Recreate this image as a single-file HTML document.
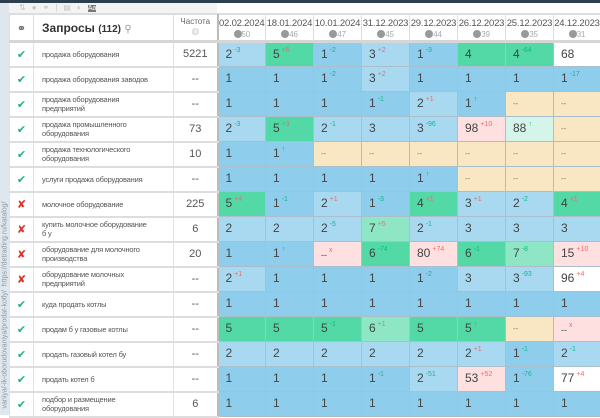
<!DOCTYPE html>
<html><head><meta charset="utf-8">
<style>
*{box-sizing:border-box;margin:0;padding:0}
body{width:600px;height:415px;overflow:hidden;background:#fff;font-family:"Liberation Sans","DejaVu Sans",sans-serif;position:relative}
#side{position:absolute;left:0;top:0;width:9px;height:415px;background:#dfe6ec}
#side span{position:absolute;left:-120px;top:280px;width:250px;transform:rotate(-90deg);font-size:7px;color:#8a9aa8;white-space:nowrap}
#topbar{position:absolute;left:0;top:0;width:600px;height:3px;background:#2d3e4e}
#tool{position:absolute;left:9px;top:3px;width:208px;height:11px;background:#f3f3f3;border-bottom:1px solid #ddd;font-size:8px;color:#c5c5c5;padding-left:10px;letter-spacing:6px}
#tool2{position:absolute;left:217px;top:3px;width:383px;height:11px;background:#fff;border-bottom:1px solid #ddd}
table{position:absolute;left:9px;top:14px;width:591px;border-collapse:collapse;table-layout:fixed}
td,th{height:25px;border:1px solid #a9bfcc;font-size:12px;color:#444;font-weight:normal;padding:0 0 2px 7px;text-align:left;white-space:nowrap;overflow:hidden}
th{height:24px;background:#fff;border:1px solid #ddd;border-bottom:3px solid #d6d6d6;vertical-align:top;padding:0}
th.d{font-size:9.5px;letter-spacing:-0.2px;color:#555;padding:3px 0 0 0;text-align:center;line-height:11px}
th.d i{display:inline-block;width:8px;height:8px;border-radius:50%;background:#999;vertical-align:middle}
th.d s{text-decoration:none;font-size:8px;color:#aaa;vertical-align:top}
td.ic{border:1px solid #e2e2e2;border-bottom:2px solid #ddd;background:#fff;text-align:center;padding:0;font-size:11px}
td.q{border:1px solid #e2e2e2;border-bottom:2px solid #ddd;background:#fff;font-size:7.5px;letter-spacing:-0.2px;color:#555;line-height:9px;padding:0 0 0 8px}
td.f{border:1px solid #e2e2e2;border-bottom:2px solid #ddd;border-right:2px solid #bbb;background:#fff;text-align:center;padding:0;font-size:11px;color:#555}
.ok{color:#1fb37a}.no{color:#e0302b}
.b{background:#8ecdeb}.l{background:#a8d9f1}.G{background:#52d9a5}.g{background:#8ee6c5}.P{background:#fde0df}.Y{background:#f9e7c3;font-size:8px;color:#777}.W{background:#fff}.M{background:#d6f5ea}
sup{font-size:7px;vertical-align:6px;margin-left:2px}
sup.u{color:#12b98c}sup.r{color:#ef6b6b}
</style></head><body>
<div id="side"><span>vaniya/-ik-oborudovaniya/prodat-kotly/ &nbsp;https://detrading.ru/katalog/</span></div>
<div id="topbar"></div>
<div id="tool">⇅●⚭|▤◐<span style="background:#777;color:#fff;font-size:7px;letter-spacing:0">Aa</span></div>
<div id="tool2"></div>
<table>
<colgroup><col style="width:24px"><col style="width:140px"><col style="width:44px"><col style="width:48px"><col style="width:48px"><col style="width:48px"><col style="width:48px"><col style="width:48px"><col style="width:48px"><col style="width:48px"><col style="width:47px"></colgroup>
<tr>
<th style="text-align:center;padding:7px 0 0;font-size:11px;color:#555">⚭</th>
<th style="padding:6px 0 0 8px;font-size:12px;font-weight:bold;color:#333">Запросы <span style="font-size:10px">(112)</span> <span style="font-weight:normal;color:#999;font-size:10px">⚲</span></th>
<th style="text-align:center;padding:2px 0 0;font-size:8px;color:#666;border-right:2px solid #bbb">Частота<br><span style="color:#ccc;font-size:9px">◍</span></th>
<th class="d">02.02.2024<br><i></i><s>50</s></th>
<th class="d">18.01.2024<br><i></i><s>46</s></th>
<th class="d">10.01.2024<br><i></i><s>47</s></th>
<th class="d">31.12.2023<br><i></i><s>45</s></th>
<th class="d">29.12.2023<br><i></i><s>44</s></th>
<th class="d">26.12.2023<br><i></i><s>39</s></th>
<th class="d">25.12.2023<br><i></i><s>35</s></th>
<th class="d">24.12.2023<br><i></i><s>31</s></th>
</tr>
<tr><td class="ic ok">✔</td><td class="q">продажа оборудования</td><td class="f">5221</td>
<td class="l">2<sup class="u">-3</sup></td><td class="G">5<sup class="r">+6</sup></td><td class="b">1<sup class="u">-2</sup></td><td class="l">3<sup class="r">+2</sup></td><td class="b">1<sup class="u">-3</sup></td><td class="G">4</td><td class="G">4<sup class="u">-64</sup></td><td class="W">68</td></tr>
<tr><td class="ic ok">✔</td><td class="q">продажа оборудования заводов</td><td class="f">--</td>
<td class="b">1</td><td class="b">1</td><td class="b">1<sup class="u">-2</sup></td><td class="l">3<sup class="r">+2</sup></td><td class="b">1</td><td class="b">1</td><td class="b">1</td><td class="b">1<sup class="u">-17</sup></td></tr>
<tr><td class="ic ok">✔</td><td class="q">продажа оборудования<br>предприятий</td><td class="f">--</td>
<td class="b">1</td><td class="b">1</td><td class="b">1</td><td class="b">1<sup class="u">-1</sup></td><td class="l">2<sup class="r">+1</sup></td><td class="b">1<sup class="u">↑</sup></td><td class="Y">--</td><td class="Y">--</td></tr>
<tr><td class="ic ok">✔</td><td class="q">продажа промышленного<br>оборудования</td><td class="f">73</td>
<td class="l">2<sup class="u">-3</sup></td><td class="G">5<sup class="r">+3</sup></td><td class="l">2<sup class="u">-1</sup></td><td class="l">3</td><td class="l">3<sup class="u">-96</sup></td><td class="P">98<sup class="r">+10</sup></td><td class="M">88<sup class="u">↑</sup></td><td class="Y">--</td></tr>
<tr><td class="ic ok">✔</td><td class="q">продажа технологического<br>оборудования</td><td class="f">10</td>
<td class="b">1</td><td class="b">1<sup class="u">↑</sup></td><td class="Y">--</td><td class="Y">--</td><td class="Y">--</td><td class="Y">--</td><td class="Y">--</td><td class="Y">--</td></tr>
<tr><td class="ic ok">✔</td><td class="q">услуги продажа оборудования</td><td class="f">--</td>
<td class="b">1</td><td class="b">1</td><td class="b">1</td><td class="b">1</td><td class="b">1<sup class="u">↑</sup></td><td class="Y">--</td><td class="Y">--</td><td class="Y">--</td></tr>
<tr><td class="ic no">✘</td><td class="q">молочное оборудование</td><td class="f">225</td>
<td class="G">5<sup class="r">+4</sup></td><td class="b">1<sup class="u">-1</sup></td><td class="l">2<sup class="r">+1</sup></td><td class="b">1<sup class="u">-3</sup></td><td class="G">4<sup class="r">+1</sup></td><td class="l">3<sup class="r">+1</sup></td><td class="l">2<sup class="u">-2</sup></td><td class="G">4<sup class="r">+1</sup></td></tr>
<tr><td class="ic no">✘</td><td class="q">купить молочное оборудование<br>б у</td><td class="f">6</td>
<td class="l">2</td><td class="l">2</td><td class="l">2<sup class="u">-5</sup></td><td class="g">7<sup class="r">+5</sup></td><td class="l">2<sup class="u">-1</sup></td><td class="l">3</td><td class="l">3</td><td class="l">3</td></tr>
<tr><td class="ic no">✘</td><td class="q">оборудование для молочного<br>производства</td><td class="f">20</td>
<td class="b">1</td><td class="b">1<sup class="u">↑</sup></td><td class="P" style="font-size:9px">--<sup class="r">x</sup></td><td class="G">6<sup class="u">-74</sup></td><td class="P">80<sup class="r">+74</sup></td><td class="G">6<sup class="u">-1</sup></td><td class="g">7<sup class="u">-8</sup></td><td class="P">15<sup class="r">+10</sup></td></tr>
<tr><td class="ic no">✘</td><td class="q">оборудование молочных<br>предприятий</td><td class="f">--</td>
<td class="l">2<sup class="r">+1</sup></td><td class="b">1</td><td class="b">1</td><td class="b">1</td><td class="b">1<sup class="u">-2</sup></td><td class="l">3</td><td class="l">3<sup class="u">-93</sup></td><td class="W">96<sup class="r">+4</sup></td></tr>
<tr><td class="ic ok">✔</td><td class="q">куда продать котлы</td><td class="f">--</td>
<td class="b">1</td><td class="b">1</td><td class="b">1</td><td class="b">1</td><td class="b">1</td><td class="b">1</td><td class="b">1</td><td class="b">1</td></tr>
<tr><td class="ic ok">✔</td><td class="q">продам б у газовые котлы</td><td class="f">--</td>
<td class="G">5</td><td class="G">5</td><td class="G">5<sup class="u">-1</sup></td><td class="g">6<sup class="r">+1</sup></td><td class="G">5</td><td class="G">5<sup class="u">↑</sup></td><td class="Y">--</td><td class="P" style="font-size:9px">--<sup class="r">x</sup></td></tr>
<tr><td class="ic ok">✔</td><td class="q">продать газовый котел бу</td><td class="f">--</td>
<td class="l">2</td><td class="l">2</td><td class="l">2</td><td class="l">2</td><td class="l">2</td><td class="l">2<sup class="r">+1</sup></td><td class="b">1<sup class="u">-1</sup></td><td class="l">2<sup class="u">-1</sup></td></tr>
<tr><td class="ic ok">✔</td><td class="q">продать котел б</td><td class="f">--</td>
<td class="b">1</td><td class="b">1</td><td class="b">1</td><td class="b">1<sup class="u">-1</sup></td><td class="l">2<sup class="u">-51</sup></td><td class="P">53<sup class="r">+52</sup></td><td class="b">1<sup class="u">-76</sup></td><td class="W">77<sup class="r">+4</sup></td></tr>
<tr><td class="ic ok">✔</td><td class="q">подбор и размещение<br>оборудования</td><td class="f">6</td>
<td class="b">1</td><td class="b">1</td><td class="b">1</td><td class="b">1</td><td class="b">1</td><td class="b">1</td><td class="b">1</td><td class="b">1</td></tr>
</table>
</body></html>
